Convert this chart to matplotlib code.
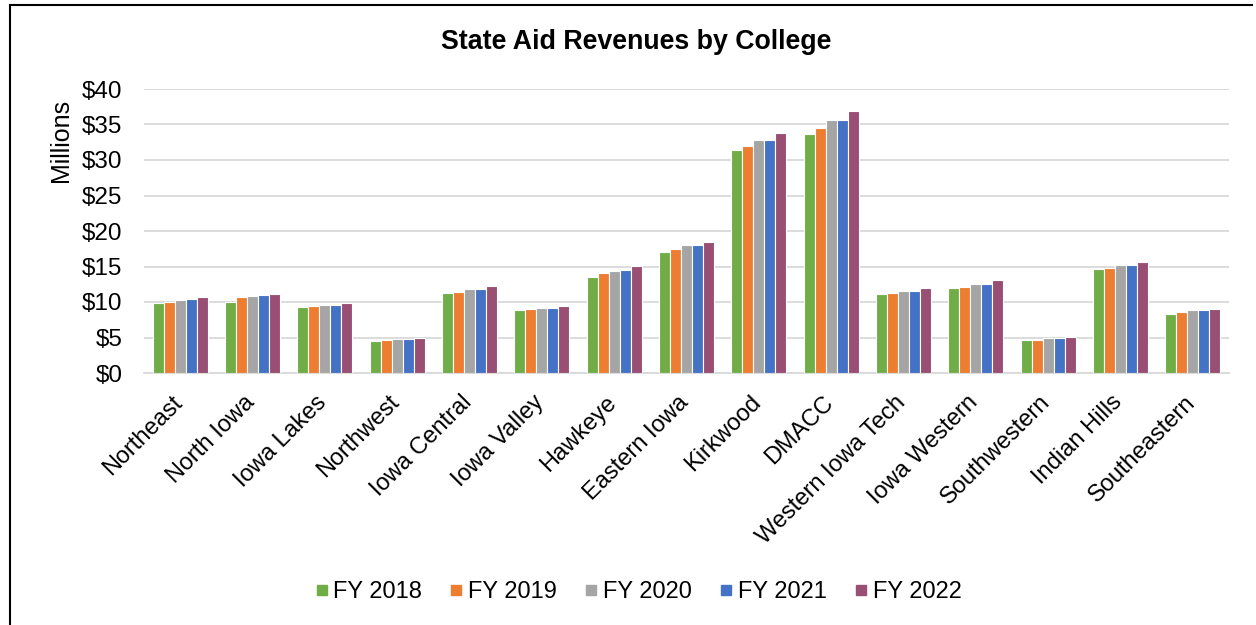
#!/usr/bin/env python3

# State aid revenues by college, grouped bars FY 2018 - FY 2022

import numpy as np
import matplotlib.pyplot as plt
import matplotlib.transforms as mtransforms
from matplotlib.lines import Line2D
from matplotlib.ticker import FuncFormatter

plt.rcParams['font.family'] = ['Liberation Sans', 'DejaVu Sans']

colleges = ["Northeast", "North Iowa", "Iowa Lakes", "Northwest", "Iowa Central",
            "Iowa Valley", "Hawkeye", "Eastern Iowa", "Kirkwood", "DMACC",
            "Western Iowa Tech", "Iowa Western", "Southwestern", "Indian Hills",
            "Southeastern"]

years = ["FY 2018", "FY 2019", "FY 2020", "FY 2021", "FY 2022"]

fy2018 = [9.87, 10.01, 9.26, 4.51, 11.33, 8.88, 13.49, 17.11, 31.39, 33.60, 11.09, 12.03, 4.61, 14.61, 8.36]
fy2019 = [10.06, 10.71, 9.45, 4.61, 11.47, 8.98, 14.10, 17.48, 31.95, 34.49, 11.23, 12.17, 4.70, 14.85, 8.60]
fy2020 = [10.29, 10.86, 9.63, 4.79, 11.80, 9.21, 14.43, 18.00, 32.85, 35.62, 11.61, 12.59, 4.89, 15.23, 8.83]
fy2021 = [10.39, 11.00, 9.63, 4.79, 11.80, 9.21, 14.52, 18.00, 32.85, 35.57, 11.61, 12.59, 4.89, 15.27, 8.83]
fy2022 = [10.67, 11.18, 9.92, 4.89, 12.22, 9.45, 15.04, 18.52, 33.79, 36.89, 11.94, 13.06, 5.08, 15.65, 9.02]

series = [fy2018, fy2019, fy2020, fy2021, fy2022]
colors = ["#70ad47", "#ed7d31", "#a5a5a5", "#4472c4", "#984f73"]


fig = plt.figure(figsize=(12.56, 6.25), dpi=100)
ax = fig.add_axes([144 / 1256, 1 - 373 / 625, (1229 - 144) / 1256, (373 - 89) / 625])

x = np.arange(len(colleges))
width = 0.152

for i, (vals, col, lab) in enumerate(zip(series, colors, years)):
    ax.bar(x + (i - 2) * width, vals, width, color=col, edgecolor="white",
           linewidth=0.8, label=lab, zorder=3)

ax.set_xlim(-0.5, len(colleges) - 0.5)
ax.set_ylim(0, 40)
ax.set_yticks(np.arange(0, 41, 5))
ax.yaxis.set_major_formatter(FuncFormatter(lambda v, p: "${:.0f}".format(v)))
ax.grid(axis="y", color="#d9d9d9", linewidth=1.3, zorder=0)

for s in ["top", "right", "left"]:
    ax.spines[s].set_visible(False)
ax.spines["bottom"].set_color("#d9d9d9")
ax.spines["bottom"].set_linewidth(1.3)

ax.tick_params(axis="y", length=0, labelsize=17.5, labelcolor="black", pad=15.5)
ax.tick_params(axis="x", length=0, labelsize=17, labelcolor="black", pad=6)
ax.set_xticks(x)
ax.set_xticklabels(colleges, rotation=45, ha="right", rotation_mode="anchor")

# nudge the slanted labels so their ends sit under the group centre
shift = mtransforms.ScaledTranslation(-9 / 100, -10 / 100, fig.dpi_scale_trans)
for lbl in ax.get_xticklabels():
    lbl.set_transform(lbl.get_transform() + shift)

fig.text(61 / 1256, 1 - 140 / 625, "Millions", rotation=90, ha="center", va="center", fontsize=18)
fig.text(636 / 1256, 1 - 42 / 625, "State Aid Revenues by College", ha="center", va="center",
         fontsize=19.3, fontweight="bold")

handles = [Line2D([], [], marker="s", linestyle="none", markersize=7.5, color=c) for c in colors]
fig.legend(handles, years, loc="center", bbox_to_anchor=(637 / 1256, 1 - 592 / 625), ncol=5,
           frameon=False, fontsize=17, handletextpad=0.1, columnspacing=1.05, handlelength=0.8)

# chart border (top and left edges only)
fig.add_artist(Line2D([10 / 1256, 1252 / 1256], [1 - 5 / 625, 1 - 5 / 625], color="black", linewidth=1.5))
fig.add_artist(Line2D([10 / 1256, 10 / 1256], [1 - 5 / 625, 0], color="black", linewidth=1.5))

plt.savefig("out.png", dpi=100)
